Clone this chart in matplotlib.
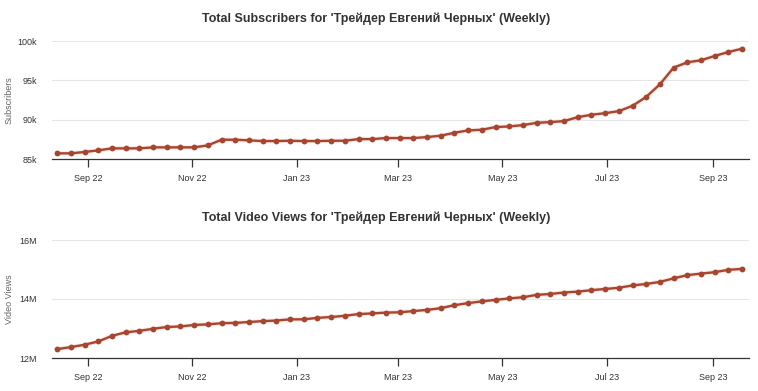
import numpy as np
import pandas as pd
import matplotlib
matplotlib.use("Agg")
import matplotlib.pyplot as plt
import matplotlib.dates as mdates
import matplotlib.ticker as mticker

plt.rcParams['font.family'] = ['Liberation Sans', 'DejaVu Sans']

# weekly points (the source spaces them 8 days apart on its date axis)
dates = pd.date_range("2022-08-14", periods=51, freq="8D")

# subscribers, thousands
subscribers = [85.72, 85.72, 85.89, 86.10, 86.35, 86.35, 86.35, 86.48, 86.48, 86.48,
               86.48, 86.73, 87.45, 87.45, 87.37, 87.28, 87.28, 87.32, 87.28, 87.28,
               87.32, 87.32, 87.53, 87.53, 87.66, 87.66, 87.66, 87.79, 87.96, 88.34,
               88.63, 88.72, 89.06, 89.14, 89.31, 89.60, 89.69, 89.82, 90.32, 90.62,
               90.83, 91.08, 91.76, 92.90, 94.50, 96.62, 97.29, 97.55, 98.10, 98.60,
               99.03]

# video views, millions
views = [12.30, 12.37, 12.45, 12.56, 12.75, 12.87, 12.92, 12.99, 13.05, 13.07,
         13.12, 13.14, 13.18, 13.19, 13.22, 13.25, 13.27, 13.31, 13.31, 13.36,
         13.39, 13.43, 13.49, 13.51, 13.54, 13.55, 13.59, 13.63, 13.69, 13.79,
         13.86, 13.92, 13.97, 14.02, 14.06, 14.14, 14.17, 14.22, 14.25, 14.30,
         14.34, 14.38, 14.46, 14.51, 14.58, 14.70, 14.81, 14.86, 14.91, 14.99,
         15.02]

line_color = "#a8452f"
W, H = 758, 391
fig = plt.figure(figsize=(W / 100, H / 100), dpi=100)


def panel(rect, x, y, ylim, yticks, yfmt, ylabel, title, title_y):
    ax = fig.add_axes(rect)
    ax.plot(x, y, color="#f0c8bc", linewidth=3.2, alpha=0.4, zorder=2)
    ax.plot(x, y, color=line_color, linewidth=1.7, marker="o", markersize=4.2,
            markeredgewidth=0, zorder=3)
    ax.set_ylim(*ylim)
    ax.set_yticks(yticks)
    ax.yaxis.set_major_formatter(mticker.FuncFormatter(yfmt))
    ax.set_xlim(pd.Timestamp("2022-08-11"), pd.Timestamp("2023-09-22"))
    ax.xaxis.set_major_locator(mdates.MonthLocator(bymonth=[1, 3, 5, 7, 9, 11]))
    ax.xaxis.set_major_formatter(mdates.DateFormatter("%b %y"))
    ax.grid(axis="y", color="#e6e6e6", linewidth=0.8)
    ax.set_axisbelow(True)
    for s in ["top", "right", "left"]:
        ax.spines[s].set_visible(False)
    ax.spines["bottom"].set_color("#333333")
    ax.spines["bottom"].set_linewidth(0.9)
    ax.tick_params(axis="x", length=6, width=0.9, color="#333333",
                   labelsize=6.5, labelcolor="#333333", pad=5)
    ax.tick_params(axis="y", length=0, labelsize=6.5, labelcolor="#333333", pad=11)
    ax.set_ylabel(ylabel, fontsize=6.5, color="#666666")
    ax.yaxis.set_label_coords(-0.055, 0.5)
    fig.text(0.496, title_y, title, ha="center", va="center",
             fontsize=9, fontweight="bold", color="#333333")
    return ax


left = 52 / W
width = (749 - 52) / W

panel([left, 1 - 159 / H, width, (159 - 41) / H], dates, subscribers,
      (85, 100), [85, 90, 95, 100], lambda v, p: f"{v:.0f}k", "Subscribers",
      "Total Subscribers for 'Трейдер Евгений Черных' (Weekly)", 1 - 19 / H)

panel([left, 1 - 358 / H, width, (358 - 240) / H], dates, views,
      (12, 16), [12, 14, 16], lambda v, p: f"{v:.0f}M", "Video Views",
      "Total Video Views for 'Трейдер Евгений Черных' (Weekly)", 1 - 218 / H)

fig.savefig("out.png", dpi=100)
